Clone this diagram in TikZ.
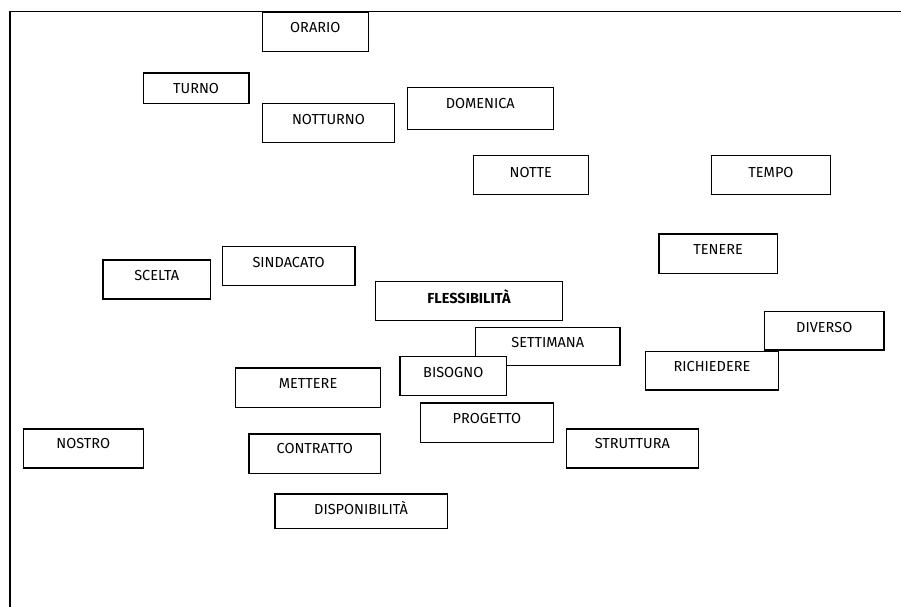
\documentclass[tikz,border=0pt]{standalone}
\usepackage{fontspec}
\setmainfont{Fira Sans}
\begin{document}
\begin{tikzpicture}[x=1pt,y=-1pt,
  wordbox/.style={draw,fill=white,line width=1.2pt,inner sep=0pt,
    font=\fontsize{14.5}{17}\selectfont},
  frameline/.style={line width=1.3pt}]
\useasboundingbox (0,0) rectangle (901,606);
% #2 name, (#3,#4) top-left, (#5,#6) bottom-right, #7 height of the text's middle, #8 text
\newcommand\wordbox[8][]{%
  \pgfmathsetmacro\wbW{#5-#3}%
  \pgfmathsetmacro\wbH{(#7+5)-#4}%
  \pgfmathsetmacro\wbD{#6-(#7+5)}%
  \node[wordbox,#1,anchor=north west,minimum width=\wbW pt,
        text height=\wbH pt,text depth=\wbD pt] (#2) at (#3,#4) {#8};}
% outer frame: left and top edges only
\coordinate (fbl) at (10,607);
\coordinate (ftl) at (10,11.7);
\coordinate (ftr) at (902,11.7);
\draw[frameline] (fbl) -- (ftl) -- (ftr);
% word boxes
\wordbox{orario}{261.7}{11.7}{367.7}{51}{26.7}{ORARIO}
\wordbox{turno}{142.7}{72.3}{248.3}{102.7}{87.7}{TURNO}
\wordbox{notturno}{261.7}{102.7}{394}{141.7}{119}{NOTTURNO}
\wordbox{domenica}{406.7}{86.7}{552.7}{129}{103.3}{DOMENICA}
\wordbox{notte}{472.7}{154.7}{587.7}{194}{171.7}{NOTTE}
\wordbox{tempo}{710.7}{154.7}{830}{194}{171.7}{TEMPO}
\wordbox{tenere}{658.3}{233.3}{776.7}{272.7}{249.3}{TENERE}
\wordbox{scelta}{102.3}{259.3}{210}{298.3}{275}{SCELTA}
\wordbox{sindacato}{221.7}{246}{354.3}{285}{261.7}{SINDACATO}
\wordbox[font=\fontsize{14.5}{17}\selectfont\bfseries]{flessibilita}{375}{280.7}{561.7}{320}{297.7}{FLESSIBILITÀ}
\wordbox{diverso}{764}{311}{883.3}{349.3}{327.3}{DIVERSO}
\wordbox{settimana}{475}{326.7}{619.3}{365}{341.7}{SETTIMANA}
\wordbox{richiedere}{645}{350.7}{777.7}{389.3}{366}{RICHIEDERE}
\wordbox{bisogno}{399.3}{356}{506}{395}{371.7}{BISOGNO}
\wordbox{mettere}{235}{367.3}{380}{406.7}{383.3}{METTERE}
\wordbox{progetto}{420}{402.3}{552.7}{441.7}{418.3}{PROGETTO}
\wordbox{nostro}{22.7}{428.3}{142.7}{467.3}{443.3}{NOSTRO}
\wordbox{contratto}{248.3}{433.3}{380}{472.7}{448.3}{CONTRATTO}
\wordbox{struttura}{565.7}{428.3}{697.7}{467.3}{443.3}{STRUTTURA}
\wordbox{disponibilita}{274.3}{493.3}{446.7}{527.7}{509.3}{DISPONIBILITÀ}
\end{tikzpicture}
\end{document}
